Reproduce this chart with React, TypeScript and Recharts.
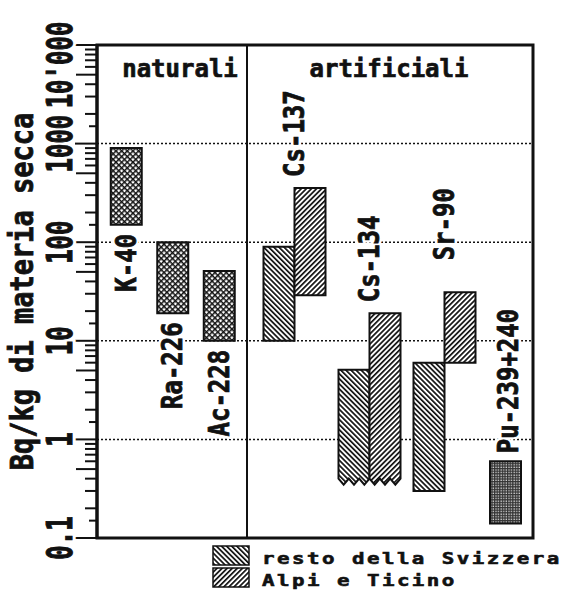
import React from 'react';
import { BarChart, Bar, XAxis, YAxis, CartesianGrid, ReferenceArea, LabelList } from 'recharts';

// isotopes, in the order of the figure
const categories = ['K-40', 'Ra-226', 'Ac-228', 'Cs-137', 'Cs-134', 'Sr-90', 'Pu-239+240'];

// ranges [min, max] in Bq/kg of dry matter
type Range = [number, number] | null;
const naturali: Range[] = [[150, 900], [19, 100], [10, 51], null, null, null, null];
const restoSvizzera: Range[] = [null, null, null, [10, 90], [0.4, 5.1], [0.3, 6], null];
const alpiTicino: Range[] = [null, null, null, [29, 355], [0.4, 19], [6, 31], null];
const plutonio: Range[] = [null, null, null, null, null, null, [0.14, 0.6]];
// lower end under the detection limit (broken bottom edge)
const sottoLimite = [false, false, false, false, true, false, false];

const yMajorTicks = [0.1, 1, 10, 100, 1000, 10000];
const yTickLabels = ['0.1', '1', '10', '100', '1000', "10'000"];
const yMinorSteps = [1.5, 2, 3, 4, 5, 6, 7, 8, 9];
const gridValues = [1, 10, 100, 1000];

const data = categories.map((name, i) => ({
  name,
  naturali: naturali[i],
  resto: restoSvizzera[i],
  alpi: alpiTicino[i],
  pu: plutonio[i],
  open: sottoLimite[i],
}));

const allTicks = [
  ...yMajorTicks,
  ...yMajorTicks.slice(0, -1).flatMap((d) => yMinorSteps.map((m) => +(d * m).toPrecision(3))),
].sort((a, b) => a - b);

// layout
const W = 567;
const H = 596;
const PLOT_LEFT = 97;
const PLOT_RIGHT = 533;
const PLOT_TOP = 45;
const PLOT_BOTTOM = 538;
const Y_AXIS_W = 80;
const DIVIDER_X = 247;
const INK = '#111';
const FONT = "'DejaVu Sans Mono', monospace";

// place category `index` of a band axis so that its band is centred on `center`
const bandPadding = (band: number, index: number, center: number) => {
  const start = center - (index + 0.5) * band;
  return { left: start - PLOT_LEFT, right: PLOT_RIGHT - (start + band * categories.length) };
};

const labelGap: Record<string, number> = { 'Sr-90': 32, 'Pu-239+240': 8 };

const vText = (cx: number, cy: number, text: string, anchor: string, size = 24, stretch = 1.15) => {
  const common = {
    transform: `translate(${cx},${cy}) rotate(-90) scale(1,${stretch})`,
    textAnchor: anchor,
    dominantBaseline: 'central',
    fontFamily: FONT,
    fontWeight: 'bold',
    fontSize: size,
  } as any;
  return (
    <g>
      <text {...common} fill="#fff" stroke="#fff" strokeWidth={5}>
        {text}
      </text>
      <text {...common} fill={INK} stroke={INK} strokeWidth={0.7}>
        {text}
      </text>
    </g>
  );
};

const RangeShape = (props: any) => {
  let { x, y, width, height } = props;
  const { fill, payload } = props;
  if (!isFinite(height) || !isFinite(y) || Math.abs(height) < 0.5) return null;
  if (height < 0) {
    y += height;
    height = -height;
  }
  const b = y + height;
  let d = `M${x},${b} L${x},${y} L${x + width},${y} L${x + width},${b}`;
  if (payload && payload.open) {
    const n = 3;
    const tw = width / n;
    for (let k = n; k >= 1; k--) {
      d += ` L${x + (k - 0.5) * tw},${b + 6} L${x + (k - 1) * tw},${b}`;
    }
  }
  d += ' Z';
  return <path d={d} fill={fill} stroke={INK} strokeWidth={2} strokeLinejoin="miter" />;
};

const hasBar = (series: Range[], name: any) => series[categories.indexOf(String(name))] != null;

const LabelBelow = (p: any) => {
  if (!hasBar(naturali, p.value)) return null;
  const gap = labelGap[p.value] ?? 9;
  return vText(p.x + p.width / 2, p.y + p.height + gap, p.value, 'end');
};

const LabelAbovePair = (p: any) => {
  if (!hasBar(alpiTicino, p.value)) return null;
  const gap = labelGap[p.value] ?? 11;
  return vText(p.x, p.y - gap, p.value, 'start');
};

const LabelAbove = (p: any) => {
  if (!hasBar(plutonio, p.value)) return null;
  const gap = labelGap[p.value] ?? 10;
  return vText(p.x + p.width / 2 + 3, p.y - gap, p.value, 'start');
};

const YTick = (props: any) => {
  const { x, y, payload } = props;
  const v = payload.value;
  const i = yMajorTicks.indexOf(v);
  const m = Math.round((v / Math.pow(10, Math.floor(Math.log10(v) + 1e-9))) * 10) / 10;
  const len = i >= 0 ? 22 : m === 5 ? 21 : m === 1.5 ? 8 : 12;
  return (
    <g>
      <line x1={x - len} x2={x} y1={y} y2={y} stroke={INK} strokeWidth={2} />
      {i >= 0 &&
        (i === yMajorTicks.length - 1
          ? vText(x - 37, y + 20, yTickLabels[i], 'middle', 24, 1.45)
          : vText(x - 37, y, yTickLabels[i], 'middle', 24, 1.45))}
    </g>
  );
};

const YTitle = (props: any) => {
  const vb = props.viewBox || { x: 17, y: PLOT_TOP, width: Y_AXIS_W, height: PLOT_BOTTOM - PLOT_TOP };
  return vText(vb.x + 5, vb.y + vb.height / 2, 'Bq/kg di materia secca', 'middle', 27, 1.15);
};

const legendItems = [
  { label: 'resto della Svizzera', fill: 'url(#pResto)' },
  { label: 'Alpi e Ticino', fill: 'url(#pAlpi)' },
];

const titleStyle = {
  textAnchor: 'middle',
  fontFamily: FONT,
  fontWeight: 'bold',
  fontSize: 24,
  fill: INK,
  stroke: INK,
  strokeWidth: 0.7,
} as any;

export default function App() {
  return (
    <div style={{ position: 'absolute', left: 0, top: 0, width: W, height: H, background: '#fff' }}>
      <BarChart
        width={W}
        height={H}
        data={data}
        barGap={0}
        margin={{ top: PLOT_TOP, right: W - PLOT_RIGHT, bottom: H - PLOT_BOTTOM, left: PLOT_LEFT - Y_AXIS_W }}
      >
        <defs>
          <pattern id="pNat" patternUnits="userSpaceOnUse" width={4} height={4} patternTransform="rotate(45)">
            <rect width={4} height={4} fill={INK} />
            <rect x={1.5} y={1.5} width={2.5} height={2.5} fill="#fff" />
          </pattern>
          <pattern id="pPu" patternUnits="userSpaceOnUse" width={2.6} height={2.6}>
            <rect width={2.6} height={2.6} fill="#333" />
            <rect x={1.3} y={1.3} width={1.3} height={1.3} fill="#ddd" />
          </pattern>
          <pattern id="pResto" patternUnits="userSpaceOnUse" width={3.6} height={3.6} patternTransform="rotate(-45)">
            <rect width={3.6} height={3.6} fill="#fff" />
            <rect width={1.7} height={3.6} fill={INK} />
          </pattern>
          <pattern id="pAlpi" patternUnits="userSpaceOnUse" width={3.6} height={3.6} patternTransform="rotate(45)">
            <rect width={3.6} height={3.6} fill="#fff" />
            <rect width={1.7} height={3.6} fill={INK} />
          </pattern>
        </defs>
        <CartesianGrid yAxisId="grid" vertical={false} stroke={INK} strokeWidth={1.5} strokeDasharray="2 2" />
        <XAxis dataKey="name" hide />
        <XAxis xAxisId="nat" dataKey="name" hide padding={bandPadding(46.5, 0, 126)} />
        <XAxis xAxisId="art" dataKey="name" hide padding={bandPadding(75, 3, 294)} />
        <XAxis xAxisId="pu" dataKey="name" hide padding={bandPadding(40, 6, 505)} />
        <YAxis yAxisId="grid" hide scale="log" domain={[0.1, 10000]} allowDataOverflow ticks={gridValues} interval={0} />
        <YAxis
          scale="log"
          domain={[0.1, 10000]}
          allowDataOverflow
          ticks={allTicks}
          interval={0}
          width={Y_AXIS_W}
          tickSize={0}
          tickMargin={0}
          tickLine={false}
          tick={<YTick />}
          axisLine={{ stroke: INK, strokeWidth: 3 }}
          label={<YTitle />}
        />
        <Bar xAxisId="nat" dataKey="naturali" fill="url(#pNat)" barSize={31} shape={RangeShape} isAnimationActive={false}>
          <LabelList dataKey="name" content={LabelBelow} />
        </Bar>
        <Bar xAxisId="art" dataKey="resto" name="resto della Svizzera" fill="url(#pResto)" barSize={31} shape={RangeShape} isAnimationActive={false} />
        <Bar xAxisId="art" dataKey="alpi" name="Alpi e Ticino" fill="url(#pAlpi)" barSize={31} shape={RangeShape} isAnimationActive={false}>
          <LabelList dataKey="name" content={LabelAbovePair} />
        </Bar>
        <Bar xAxisId="pu" dataKey="pu" fill="url(#pPu)" barSize={31} shape={RangeShape} isAnimationActive={false}>
          <LabelList dataKey="name" content={LabelAbove} />
        </Bar>
        <ReferenceArea y1={0.1} y2={10000} fill="none" fillOpacity={0} stroke={INK} strokeWidth={3} ifOverflow="visible" />
        <line x1={DIVIDER_X} x2={DIVIDER_X} y1={PLOT_TOP} y2={PLOT_BOTTOM} stroke={INK} strokeWidth={2} />
        <text x={180} y={77} {...titleStyle}>
          naturali
        </text>
        <text x={389} y={77} {...titleStyle}>
          artificiali
        </text>
        {legendItems.map((it, i) => (
          <g key={it.label}>
            <rect x={213} y={546 + i * 22} width={36} height={19} fill={it.fill} stroke={INK} strokeWidth={1.5} />
            <text
              transform={`translate(262,${564 + i * 22}) scale(1.3,1)`}
              fontFamily={FONT}
              fontWeight="bold"
              fontSize={16}
              letterSpacing={1.9}
              fill={INK}
              stroke={INK}
              strokeWidth={0.6}
            >
              {it.label}
            </text>
          </g>
        ))}
      </BarChart>
    </div>
  );
}
